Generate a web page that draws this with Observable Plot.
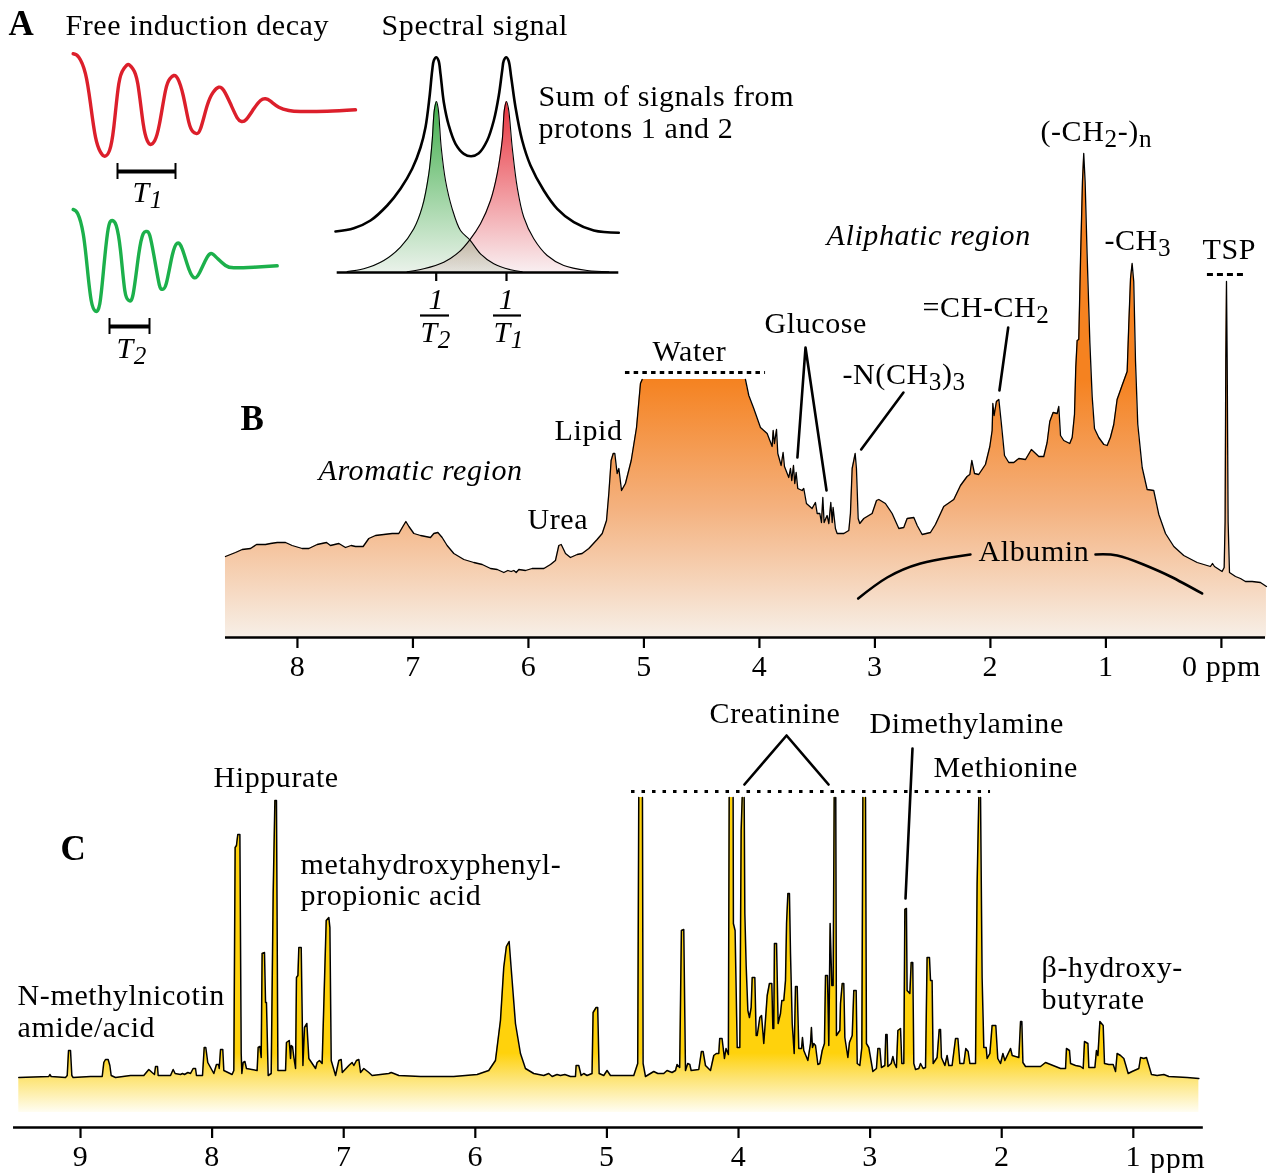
<!DOCTYPE html>
<html>
<head>
<meta charset="utf-8">
<script src="https://cdn.jsdelivr.net/npm/d3@7"></script>
<script src="https://cdn.jsdelivr.net/npm/@observablehq/plot@0.6"></script>
<style>
html,body{margin:0;padding:0;background:#fff}
#page{position:relative;width:1276px;height:1173px;overflow:hidden;background:#fff}
#page svg{position:absolute;max-width:none}
</style>
</head>
<body>
<div id="page"></div>
<script>
// ---------- Panel A: free induction decays [time, signal]
const fidProton1 = [[0.7,56.7],[6.3,53.3],[13,36.7],[18,6.7],[23,-26.7],[28,-41.7],[32.3,-45.7],[37,-40],[41.3,-16.7],[46.3,26.7],[51.3,41.7],[55.7,46],[60.3,41.7],[65.3,26.7],[70.7,-13.3],[74.7,-30],[78,-34],[82.3,-30],[87,-13.3],[93,20],[97.3,31.7],[101.3,35],[105.3,31.7],[110.7,15],[116.3,-11.7],[120.3,-21],[123.7,-23],[128,-18.3],[134.7,5],[140.7,18.3],[146.3,23.3],[151.3,20],[158,6.7],[164.7,-7.3],[169,-11],[173.7,-9],[181.3,1.7],[188,10],[193,11.7],[198,9.3],[206.3,3.3],[216.3,0],[228,-1],[254.7,-0.7],[283,0.7]];
const fidProton2 = [[0.7,57],[5.3,52.7],[10.7,32.7],[14.7,-0.7],[18.7,-34],[23,-44.7],[27.3,-37.3],[31.3,-0.7],[35.7,37.7],[39.7,46],[43.7,41],[48,16],[52.3,-24],[56.3,-34],[60.7,-27.3],[66.3,12.7],[70.7,32.7],[73.7,35],[77.3,31],[82.3,6],[87,-19],[89.7,-22.7],[93.7,-17.3],[99.7,11],[104.7,23.3],[109.7,17.7],[116.3,-2.3],[122,-11.3],[127.3,-5.7],[134.7,9.3],[139.7,12.7],[145.3,7.7],[153,1],[161.3,-1.3],[181.3,-0.7],[204.7,0.7]];
const t1Bar = [45,103], t2Bar = [37,77];

// ---------- Panel A: spectral signals [frequency, intensity]
const signalSum = [[-136,41],[-117.7,44.3],[-101,52],[-84.3,67],[-71,83.7],[-59.3,103.7],[-51,125],[-46,145.3],[-42,175.3],[-39.3,202],[-37.7,212],[-35.3,215.3],[-33,212],[-31,198.7],[-27.7,170.3],[-22.7,147],[-16,128.7],[-7.7,118.7],[-0.3,116.3],[7.3,119.3],[15.7,132],[22.3,152],[27.3,177],[30.7,202],[32.3,212],[34.7,215.3],[37,212],[39.7,195.3],[44,165.3],[50.7,132],[59,107],[72.3,82],[85.7,63.7],[102.3,50.3],[122.3,42],[147.3,39.7]];
const signalGreen = [[-124.3,1],[-107.7,3.7],[-87.7,12],[-71,25.3],[-57.7,43.7],[-49.3,65.3],[-42.7,98.7],[-39.3,132],[-37,163.7],[-35,171],[-33.3,163.7],[-30.3,125.3],[-26,92],[-19.3,63.7],[-11,42],[-1.7,32.7],[9,18.7],[22.3,8.7],[39,2.7],[50.7,0.7]];
const signalRed = [[-64.3,0.7],[-47.7,3.7],[-27.7,10.3],[-12.7,20.3],[-1.7,32.7],[9,48.7],[19,72],[25.7,98.7],[30.7,132],[33,163.7],[35,171],[37,163.7],[40.7,125.3],[45.7,85.3],[52.3,55.3],[62.3,33.7],[75.7,17],[92.3,7],[115.7,2],[137.3,0.7]];
const signalTicks = [-35.3,35];

// ---------- Panel B: serum spectrum [ppm, intensity]
const serumAromatic = [[8.623,81],[8.536,85],[8.478,88],[8.406,89],[8.354,93],[8.276,93],[8.233,94],[8.175,95],[8.103,95],[8.046,92],[7.959,89],[7.901,89],[7.829,93],[7.748,95],[7.714,92],[7.641,94],[7.584,90],[7.535,92],[7.497,91],[7.431,91],[7.382,99],[7.324,102],[7.252,103],[7.18,104],[7.122,104],[7.087,111],[7.061,116],[7.035,111],[6.992,104],[6.934,102],[6.848,100],[6.819,104],[6.784,105],[6.747,100],[6.704,92],[6.646,84],[6.559,78],[6.473,75],[6.4,73],[6.328,69],[6.27,68],[6.213,65],[6.178,67],[6.149,66],[6.126,67],[6.106,65],[6.083,68],[6.025,67],[5.968,69],[5.866,69],[5.809,73],[5.766,77],[5.737,92],[5.716,93],[5.679,84],[5.636,80],[5.578,83],[5.535,84],[5.477,89],[5.405,98],[5.361,104],[5.324,117],[5.304,144],[5.284,177],[5.266,184],[5.252,184],[5.232,164],[5.217,169],[5.194,147],[5.16,154],[5.11,177],[5.064,210],[5.03,254],[5.015,258]];
const serumWaterSide = [[4.121,258],[4.092,242],[4.049,229],[3.991,210],[3.933,204],[3.89,191],[3.881,207],[3.87,194],[3.852,208],[3.841,184],[3.812,172],[3.795,185],[3.783,171],[3.746,160],[3.731,169],[3.72,157],[3.705,172],[3.694,154],[3.682,165],[3.668,149],[3.63,147],[3.616,149],[3.593,134],[3.544,129],[3.515,135],[3.5,124],[3.477,124],[3.463,115],[3.451,140],[3.44,115],[3.414,122],[3.399,114],[3.382,135],[3.37,115],[3.362,130],[3.342,109],[3.327,104],[3.269,104],[3.226,107],[3.212,124],[3.197,169],[3.183,177],[3.171,184],[3.16,169],[3.145,119],[3.131,114],[3.096,119],[3.053,122],[3.024,124],[2.986,137],[2.966,138],[2.909,134],[2.851,124],[2.793,109],[2.75,110],[2.721,119],[2.663,120],[2.634,112],[2.591,103],[2.519,105]];
const serumAliphatic = [[2.476,113],[2.404,131],[2.317,138],[2.259,152],[2.202,161],[2.178,163],[2.161,177],[2.138,164],[2.101,163],[2.043,173],[2.005,191],[1.985,207],[1.979,234],[1.968,222],[1.948,236],[1.927,238],[1.907,216],[1.878,182],[1.841,175],[1.797,175],[1.754,179],[1.696,178],[1.645,188],[1.581,181],[1.538,181],[1.509,195],[1.486,216],[1.457,225],[1.422,224],[1.408,231],[1.393,202],[1.365,197],[1.313,194],[1.292,200],[1.272,223],[1.261,270],[1.249,297],[1.235,298],[1.22,377],[1.203,456],[1.192,484],[1.18,456],[1.163,384],[1.139,295],[1.119,241],[1.099,209],[1.062,200],[1.018,193],[0.989,192],[0.961,200],[0.932,213],[0.903,238],[0.86,252],[0.816,266],[0.802,313],[0.787,359],[0.773,374],[0.759,356],[0.744,277],[0.724,213],[0.686,170],[0.643,148],[0.586,147],[0.542,123],[0.484,104],[0.412,91],[0.326,82],[0.21,75],[0.124,72],[0.095,71],[0.077,74],[0.06,71],[-0.006,66],[-0.024,70],[-0.032,116],[-0.038,277],[-0.044,356],[-0.05,277],[-0.058,116],[-0.07,65],[-0.122,61],[-0.165,59],[-0.208,56],[-0.266,56],[-0.338,55],[-0.39,51]];
const serumTicks = [8,7,6,5,4,3,2,1,0];

// ---------- Panel C: urine spectrum [ppm, intensity]
const urineAromatic = [[9.469,38],[9.241,39],[9.233,41],[9.223,39],[9.114,38],[9.101,40],[9.091,65],[9.076,65],[9.066,40],[9.056,38],[8.924,39],[8.835,39],[8.823,53],[8.81,56],[8.79,56],[8.777,50],[8.767,40],[8.734,38],[8.62,40],[8.519,40],[8.481,46],[8.456,43],[8.438,41],[8.43,49],[8.415,49],[8.41,40],[8.316,40],[8.296,46],[8.281,42],[8.24,41],[8.225,42],[8.21,41],[8.184,43],[8.164,42],[8.144,47],[8.126,47],[8.119,40],[8.073,40],[8.06,68],[8.048,68],[8.033,53],[7.987,42],[7.967,51],[7.951,51],[7.946,47],[7.936,66],[7.919,66],[7.911,45],[7.848,41],[7.835,45],[7.825,268],[7.815,270],[7.805,281],[7.789,281],[7.779,62],[7.774,42],[7.764,53],[7.751,54],[7.739,47],[7.658,45],[7.65,68],[7.637,69],[7.627,58],[7.62,162],[7.602,163],[7.594,113],[7.587,113],[7.574,40],[7.551,42],[7.536,222],[7.523,315],[7.511,315],[7.5,45],[7.442,45],[7.435,73],[7.414,75],[7.404,57],[7.399,70],[7.389,69],[7.379,58],[7.366,47],[7.359,138],[7.348,140],[7.341,168],[7.323,168],[7.31,50],[7.298,88],[7.28,92],[7.265,57],[7.214,47],[7.202,53],[7.184,55],[7.164,52],[7.133,195],[7.113,198],[7.105,188],[7.095,55],[7.062,40],[7.037,55],[7.019,56],[7.011,43],[6.961,50],[6.936,53],[6.923,50],[6.903,55],[6.885,56],[6.872,43],[6.847,47],[6.809,43],[6.784,40],[6.657,42],[6.639,43],[6.619,42],[6.581,40],[6.416,39]];
const urineMiddle = [[6.164,39],[5.986,41],[5.898,45],[5.847,55],[5.809,95],[5.784,148],[5.764,169],[5.743,174],[5.728,148],[5.695,92],[5.657,62],[5.619,47],[5.556,42],[5.48,40],[5.442,42],[5.416,39],[5.379,41],[5.353,40],[5.32,41],[5.277,39],[5.239,39],[5.234,50],[5.214,50],[5.196,40],[5.176,42],[5.151,40],[5.113,42],[5.105,103],[5.082,108],[5.07,108],[5.059,42],[5.024,40],[4.999,45],[4.973,40],[4.796,40],[4.766,52],[4.758,318],[4.73,318],[4.725,52],[4.707,39],[4.644,44],[4.613,42],[4.568,42],[4.543,45],[4.505,43],[4.479,45],[4.467,51],[4.447,48],[4.434,185],[4.416,186],[4.403,45],[4.386,52],[4.37,51],[4.36,45],[4.302,46],[4.282,64],[4.269,64],[4.251,50],[4.213,45],[4.188,60],[4.168,62],[4.15,62],[4.143,77],[4.125,77],[4.107,57],[4.095,67],[4.077,61],[4.071,318],[4.041,318],[4.039,192]];
const urineCrowded = [[4.026,185],[4.01,68],[3.99,68],[3.98,285],[3.972,318],[3.957,318],[3.952,202],[3.942,150],[3.929,105],[3.917,98],[3.904,108],[3.896,138],[3.876,138],[3.866,80],[3.858,80],[3.838,98],[3.825,100],[3.808,72],[3.782,120],[3.765,132],[3.747,132],[3.739,87],[3.732,87],[3.727,172],[3.711,172],[3.699,92],[3.681,102],[3.671,115],[3.656,115],[3.643,135],[3.635,192],[3.625,222],[3.613,222],[3.605,162],[3.592,92],[3.577,62],[3.567,129],[3.554,129],[3.542,67],[3.521,67],[3.514,78],[3.504,65],[3.473,55],[3.453,72],[3.446,88],[3.438,68],[3.428,72],[3.415,70],[3.397,51],[3.382,52],[3.364,65],[3.347,72],[3.339,140],[3.324,140],[3.314,70],[3.304,192],[3.291,130],[3.281,130],[3.273,318],[3.261,318],[3.256,80],[3.23,85],[3.225,112],[3.212,132],[3.2,132],[3.192,78],[3.169,58],[3.157,73],[3.136,80],[3.124,125],[3.106,125],[3.098,52],[3.078,50],[3.063,68],[3.055,318],[3.035,318],[3.028,72],[3.01,68],[2.997,58],[2.979,44],[2.952,47],[2.941,67],[2.926,67],[2.914,48],[2.888,50],[2.881,81],[2.871,81],[2.865,49],[2.84,52],[2.827,59],[2.815,52],[2.8,48],[2.789,85],[2.769,87],[2.759,52],[2.744,52],[2.736,206],[2.724,207],[2.719,125],[2.698,122],[2.688,153],[2.676,153],[2.668,52],[2.655,46],[2.63,47],[2.617,52],[2.597,47],[2.579,48],[2.567,158],[2.549,158],[2.541,135],[2.529,135],[2.521,52],[2.491,58],[2.475,86],[2.465,86],[2.458,58],[2.432,50],[2.415,60],[2.402,50],[2.377,50],[2.351,77],[2.333,77],[2.318,52],[2.288,52],[2.273,67],[2.255,64],[2.242,52],[2.199,52],[2.187,231],[2.174,318],[2.161,318],[2.149,138],[2.136,68],[2.118,68],[2.111,57],[2.09,62],[2.073,90],[2.045,90],[2.03,57],[2.009,52]];
const urineAliphatic = [[1.991,62],[1.976,55],[1.958,60],[1.933,67],[1.92,60],[1.87,58],[1.857,94],[1.847,94],[1.839,53],[1.819,49],[1.705,49],[1.667,53],[1.629,51],[1.553,47],[1.515,47],[1.508,67],[1.485,65],[1.477,52],[1.439,50],[1.401,49],[1.381,47],[1.371,74],[1.345,72],[1.338,48],[1.292,48],[1.28,65],[1.269,60],[1.254,94],[1.229,90],[1.219,52],[1.186,51],[1.153,51],[1.135,44],[1.123,62],[1.097,60],[1.072,57],[1.039,42],[1.009,44],[0.958,47],[0.945,58],[0.92,57],[0.9,58],[0.882,50],[0.862,41],[0.819,40],[0.768,41],[0.73,39],[0.591,38],[0.502,37]];
const urineTicks = [9,8,7,6,5,4,3,2,1];

// ---------- Annotations (data coordinates of each panel)
const labelsA = [["Free induction decay",-406,238],["Spectral signal",-90,238],["Sum of signals from",67,167],["protons 1 and 2",67,135]];
const labelsB = [["Urea",6.008,109],["Lipid",5.774,198],["Water",4.926,277],["Glucose",3.956,305],["-N(CH_3)_3",3.281,254],["=CH-CH_2",2.588,321],["(-CH_2-)_n",1.567,497],["-CH_3",1.013,388],["TSP",0.164,379],["Albumin",2.103,77]];
const italicB = [["Aromatic region",7.818,158],["Aliphatic region",3.419,393]];
const labelsC = [["Creatinine",4.22,393],["Dimethylamine",3.005,383],["Methionine",2.518,339],["Hippurate",7.99,329],["metahydroxyphenyl-",7.328,242],["propionic acid",7.328,211],["N-methylnicotin",9.478,111],["amide/acid",9.478,79],["β-hydroxy-",1.697,139],["butyrate",1.697,107],["ppm",0.873,-52]];
const glucoseLeader = [[3.671,180],[3.601,290],[3.419,147]];
const trimethylLeader = [[2.753,245],[3.119,188]];
const olefinLeader = [[1.846,310],[1.922,247]];
const albuminLeft = [[3.145,39],[2.894,60],[2.606,74],[2.346,80],[2.173,83]];
const albuminRight = [[1.09,83],[0.902,82],[0.675,73],[0.441,61],[0.167,44]];
const creatinineLeader = [[3.955,331],[3.635,380],[3.316,331]];
const dimethylLeader = [[2.678,367],[2.731,217]];

// ---------- Helpers
const serif = "'Liberation Serif','Times New Roman',serif";
const FS = 30, LS = "0.6px";
const baseStyle = {background:"transparent",fontFamily:serif,fontSize:FS+"px",letterSpacing:LS,color:"#000",overflow:"visible"};
const page = document.getElementById("page");
function place(plot,left,top){plot.style.left=left+"px";plot.style.top=top+"px";page.appendChild(plot);}

// Text mark in which "_x" becomes a subscript
function rich(rows,opts={}){
  const size = opts.fontSize||FS;
  return Plot.text(rows,{x:d=>d[1],y:d=>d[2],text:d=>d[0],textAnchor:"start",lineAnchor:"bottom",fontSize:size,fill:"#000",...opts,
    render(i,s,v,dim,ctx,next){
      const g=next(i,s,v,dim,ctx);
      d3.select(g).selectAll("text").each(function(){
        const t=this.textContent; if(!t.includes("_")) return;
        const parts=t.split(/_(.)/); const el=d3.select(this); el.text(null);
        const sh=size*0.2; let shifted=false;
        parts.forEach((p,k)=>{ if(!p) return;
          const sub=k%2===1; const ts=el.append("tspan").text(p);
          if(sub){ts.attr("font-size",size*0.84).attr("dy",shifted?null:sh);shifted=true;}
          else{ if(shifted) ts.attr("dy",-sh); shifted=false; }
        });
      });
      return g;
    }});
}
// Vertical gradient anchored to values of the y scale
function gradient(id,stops){
  return (index,scales)=>{
    const d=d3.create("svg:defs");
    const lg=d.append("linearGradient").attr("id",id).attr("gradientUnits","userSpaceOnUse")
      .attr("x1",0).attr("x2",0).attr("y1",scales.y(stops[0][0])).attr("y2",scales.y(stops[stops.length-1][0]));
    const a=stops[0][0], b=stops[stops.length-1][0];
    stops.forEach(([v,c])=>lg.append("stop").attr("offset",(v-a)/(b-a)).attr("stop-color",c));
    return d.node();
  };
}
const leader=(pts,w=2.6)=>Plot.line(pts,{x:d=>d[0],y:d=>d[1],stroke:"#000",strokeWidth:w});

// ---------- FID plots
function fidPlot(series,color,bar,label,top,height,yDomain){
  place(Plot.plot({width:310,height,margin:0,style:baseStyle,
    x:{domain:[0,290],range:[12,302],axis:null},
    y:{domain:yDomain,range:[height,0],axis:null},
    marks:[
      Plot.line(series,{x:d=>d[0],y:d=>d[1],stroke:color,strokeWidth:3.4,curve:"natural"}),
      Plot.ruleY([bar[1]],{x1:bar[0][0],x2:bar[0][1],stroke:"#000",strokeWidth:4}),
      Plot.ruleX(bar[0],{y1:bar[1]-8,y2:bar[1]+8,stroke:"#000",strokeWidth:2}),
      rich([label],{fontStyle:"italic"})
    ]}),60,top);
}
fidPlot(fidProton1,"#dc1f2b",[t1Bar,-61],["T_1",60,-91],50,170,[-110,60]);
fidPlot(fidProton2,"#1cb04b",[t2Bar,-60],["T_2",44,-91],206,180,[-120,60]);

// ---------- Spectral signal
place(Plot.plot({width:810,height:360,margin:0,style:baseStyle,
  x:{domain:[-471,339],range:[0,810],axis:null},
  y:{domain:[-88,272],range:[360,0],axis:null},
  marks:[
    gradient("gGreen",[[171,"#3fae4a"],[0,"#eaf2ea"]]),
    gradient("gRed",[[171,"#e8323c"],[0,"#f9eff1"]]),
    Plot.areaY(signalGreen,{x:d=>d[0],y1:0,y2:d=>d[1],fill:"url(#gGreen)",curve:"catmull-rom",mixBlendMode:"multiply"}),
    Plot.areaY(signalRed,{x:d=>d[0],y1:0,y2:d=>d[1],fill:"url(#gRed)",curve:"catmull-rom",mixBlendMode:"multiply"}),
    Plot.line(signalGreen,{x:d=>d[0],y:d=>d[1],stroke:"#000",strokeWidth:1.1,curve:"catmull-rom"}),
    Plot.line(signalRed,{x:d=>d[0],y:d=>d[1],stroke:"#000",strokeWidth:1.1,curve:"catmull-rom"}),
    Plot.line(signalSum,{x:d=>d[0],y:d=>d[1],stroke:"#000",strokeWidth:2.6,curve:"catmull-rom"}),
    Plot.ruleY([0],{x1:-134.3,x2:147.3,stroke:"#000",strokeWidth:2.6}),
    Plot.ruleX(signalTicks,{y1:0,y2:-9,stroke:"#000",strokeWidth:2.2}),
    Plot.ruleY([-43],{x1:-51,x2:-22,stroke:"#000",strokeWidth:2.2}),
    Plot.ruleY([-43],{x1:22,x2:50,stroke:"#000",strokeWidth:2.2}),
    Plot.text(signalTicks,{x:d=>d,y:-36,text:()=>"1",lineAnchor:"bottom",fontSize:FS,fontStyle:"italic",fill:"#000"}),
    rich([["T_2",-51,-69],["T_1",22,-69]],{fontStyle:"italic"}),
    rich(labelsA),
    rich([["A",-463,238]],{fontWeight:"bold",fontSize:35})
  ]}),0,0);

// ---------- Panel B
const serum = [...serumAromatic,...serumWaterSide,...serumAliphatic];
place(Plot.plot({width:1276,height:580,marginTop:0,marginLeft:0,marginRight:0,marginBottom:53,style:baseStyle,
  x:{domain:[10.571,-0.477],range:[0,1276],axis:null},
  y:{domain:[0,527],axis:null},
  marks:[
    gradient("gB",[[258,"#f58220"],[130,"#f4b17e"],[0,"#f7efe7"]]),
    Plot.areaY(serum,{x:d=>d[0],y1:0,y2:d=>d[1],fill:"url(#gB)"}),
    Plot.line(serum,{x:d=>d[0],y:d=>d[1],z:d=>d[0]>4.5?"a":"b",stroke:"#000",strokeWidth:1.3}),
    Plot.ruleY([0],{x1:8.623,x2:-0.382,stroke:"#000",strokeWidth:2.6}),
    Plot.axisX({ticks:serumTicks,label:null,tickSize:11,tickPadding:6,strokeWidth:2.2,tickFormat:d=>d===0?"0 ppm":String(d),fontSize:FS,fill:"#000"}),
    leader(glucoseLeader),leader(trimethylLeader),leader(olefinLeader),
    Plot.line(albuminLeft,{x:d=>d[0],y:d=>d[1],stroke:"#000",strokeWidth:2.6,curve:"natural"}),
    Plot.line(albuminRight,{x:d=>d[0],y:d=>d[1],stroke:"#000",strokeWidth:2.6,curve:"natural"}),
    Plot.ruleY([265],{x1:5.16,x2:3.947,stroke:"#000",strokeWidth:3,strokeDasharray:"4.5 4.2"}),
    Plot.ruleY([363],{x1:0.121,x2:-0.208,stroke:"#000",strokeWidth:3,strokeDasharray:"6 4"}),
    rich(labelsB),
    rich(italicB,{fontStyle:"italic",letterSpacing:"0.9px"}),
    rich([["B",8.493,208]],{fontWeight:"bold",fontSize:35})
  ]}),0,110);

// ---------- Panel C
const urine = [...urineAromatic,...urineMiddle,...urineCrowded,...urineAliphatic];
// The tallest peaks run off the scale: no outline across their cut tops
let piece = 0;
const urineRows = urine.map((d,i)=>{
  if(i>0 && d[1]===318 && urine[i-1][1]===318) piece++;
  return {ppm:d[0],value:d[1],piece};
});
place(Plot.plot({width:1276,height:483,marginTop:0,marginLeft:0,marginRight:0,marginBottom:46,style:baseStyle,
  x:{domain:[9.608,-0.088],range:[0,1276],axis:null},
  y:{domain:[-12,425],axis:null},
  marks:[
    gradient("gC",[[62,"#ffd20c"],[38,"#fde36f"],[2,"#fffef6"]]),
    Plot.areaY(urineRows,{x:"ppm",y1:3,y2:"value",fill:"url(#gC)"}),
    Plot.line(urineRows,{x:"ppm",y:"value",z:"piece",stroke:"#000",strokeWidth:1.5}),
    Plot.ruleY([-12],{x1:9.509,x2:0.468,stroke:"#000",strokeWidth:2.6}),
    Plot.axisX({ticks:urineTicks,label:null,tickSize:11,tickPadding:6,strokeWidth:2.2,tickFormat:String,fontSize:FS,fill:"#000"}),
    leader(creatinineLeader),leader(dimethylLeader),
    Plot.ruleY([324],{x1:4.813,x2:2.085,stroke:"#000",strokeWidth:3,strokeDasharray:"3.5 7"}),
    rich(labelsC),
    rich([["C",9.152,256]],{fontWeight:"bold",fontSize:35})
  ]}),0,690);
</script>
</body>
</html>
